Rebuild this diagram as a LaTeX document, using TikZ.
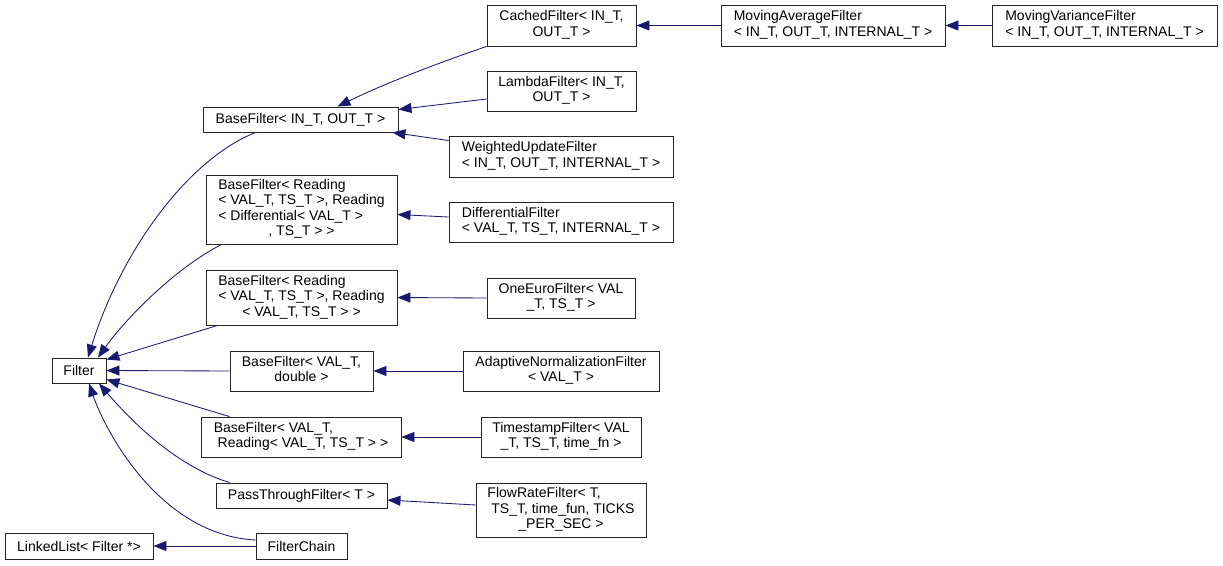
\documentclass[tikz,border=0pt]{standalone}
\usepackage{fontspec}
\setmainfont{Liberation Sans}
\usetikzlibrary{arrows.meta,calc}
\definecolor{edgeblue}{RGB}{25,25,112}
% multi-line class label: leading lines flush left, last line centred
\newcommand{\lbl}[2]{\begin{tabular}{@{}l@{}}#1\\\multicolumn{1}{@{}c@{}}{#2}\end{tabular}}
\begin{document}
\begin{tikzpicture}[x=1pt,y=-1pt,
  cls/.style={draw=black!85, line width=0.9pt, fill=white, inner sep=0pt,
    font=\fontsize{14}{15.5}\selectfont},
  inherit/.style={draw=edgeblue, line width=0.85pt,
    -{Triangle[length=13pt,width=10pt]}}]
\useasboundingbox (0,0) rectangle (1223,565);

% classes
\node[cls, minimum width=149pt, minimum height=41pt] (cached) at (561.5,25.5) {\lbl{CachedFilter< IN\_T,}{OUT\_T >}};
\node[cls, minimum width=224pt, minimum height=41pt] (movavg) at (833,25.5) {\lbl{MovingAverageFilter}{< IN\_T, OUT\_T, INTERNAL\_T >}};
\node[cls, minimum width=225pt, minimum height=41pt] (movvar) at (1104.5,25.5) {\lbl{MovingVarianceFilter}{< IN\_T, OUT\_T, INTERNAL\_T >}};
\node[cls, minimum width=149pt, minimum height=40pt] (lambda) at (561.5,91) {\lbl{LambdaFilter< IN\_T,}{OUT\_T >}};
\node[cls, minimum width=195pt, minimum height=25pt] (bfio) at (300.5,119.5) {BaseFilter< IN\_T, OUT\_T >};
\node[cls, minimum width=224pt, minimum height=41pt] (weighted) at (561,156.5) {\lbl{WeightedUpdateFilter}{< IN\_T, OUT\_T, INTERNAL\_T >}};
\node[cls, minimum width=191pt, minimum height=69pt] (bfdiff) at (301.5,209.5) {\lbl{BaseFilter< Reading\\< VAL\_T, TS\_T >, Reading\\< Differential< VAL\_T >}{, TS\_T > >}};
\node[cls, minimum width=224pt, minimum height=40pt] (diff) at (561,222) {\lbl{DifferentialFilter}{< VAL\_T, TS\_T, INTERNAL\_T >}};
\node[cls, minimum width=191pt, minimum height=55pt] (bfrr) at (301.5,297.5) {\lbl{BaseFilter< Reading\\< VAL\_T, TS\_T >, Reading}{< VAL\_T, TS\_T > >}};
\node[cls, minimum width=148pt, minimum height=40pt] (oneeuro) at (561,298) {\lbl{OneEuroFilter< VAL}{\_T, TS\_T >}};
\node[cls, minimum width=54pt, minimum height=25pt] (filter) at (79,370.5) {Filter};
\node[cls, minimum width=143pt, minimum height=40pt] (bfvd) at (301.5,371) {\lbl{BaseFilter< VAL\_T,}{double >}};
\node[cls, minimum width=196pt, minimum height=40pt] (adaptive) at (561,371) {\lbl{AdaptiveNormalizationFilter}{< VAL\_T >}};
\node[cls, minimum width=200pt, minimum height=40pt] (bfvr) at (301,437) {\lbl{BaseFilter< VAL\_T,}{\ Reading< VAL\_T, TS\_T > >}};
\node[cls, minimum width=160pt, minimum height=40pt] (timestamp) at (561,437) {\lbl{TimestampFilter< VAL}{\_T, TS\_T, time\_fn >}};
\node[cls, minimum width=171pt, minimum height=25pt] (pass) at (301.5,495.5) {PassThroughFilter< T >};
\node[cls, minimum width=170pt, minimum height=54pt] (flow) at (561,510) {\lbl{FlowRateFilter< T,\\\ TS\_T, time\_fun, TICKS}{\_PER\_SEC >}};
\node[cls, minimum width=148pt, minimum height=26pt] (linked) at (79,546) {LinkedList< Filter *>};
\node[cls, minimum width=91pt, minimum height=26pt] (chain) at (301.5,546) {FilterChain};

% inheritance edges (arrow points at the base class)
\draw[inherit] (movavg.west) -- (cached.east);
\draw[inherit] (movvar.west) -- (movavg.east);
\draw[inherit] (cached.south west) .. controls +(-47,16) and +(47,-23) .. ([xshift=37pt]bfio.north);
\draw[inherit] ([yshift=-8pt]lambda.west) -- ([yshift=10pt]bfio.east);
\draw[inherit] ([yshift=-5pt]weighted.north west) -- ([xshift=-6pt]bfio.south east);
\draw[inherit] ([yshift=5pt]diff.west) -- ([yshift=-5pt]bfdiff.east);
\draw[inherit] (oneeuro.west) -- (bfrr.east);
\draw[inherit] (adaptive.west) -- (bfvd.west -| bfvd.east);
\draw[inherit] (timestamp.west) -- (bfvr.east);
\draw[inherit] ([yshift=5pt]flow.west) -- ([yshift=-4.5pt]pass.east);
\draw[inherit] (chain.west) -- (linked.east);

\draw[inherit] ([xshift=-45pt]bfio.south) .. controls +(-70,28) and +(32,-103) .. ([xshift=9pt]filter.north);
\draw[inherit] ([xshift=16pt]bfdiff.south west) .. controls +(-47,24) and +(27,-38) .. ([xshift=19pt]filter.north);
\draw[inherit] ([xshift=12pt]bfrr.south west) -- ([yshift=-2pt]filter.north east);
\draw[inherit] (bfvd.west) -- (filter.east);
\draw[inherit] ([xshift=29pt]bfvr.north west) -- ([yshift=-9pt]filter.east);
\draw[inherit] ([xshift=14pt]pass.north west) .. controls +(-50,-15) and +(36,42) .. ([xshift=20pt]filter.south);
\draw[inherit] ([yshift=6pt]chain.west) .. controls +(-96,-5) and +(16,47) .. ([xshift=10pt]filter.south);
\end{tikzpicture}
\end{document}
